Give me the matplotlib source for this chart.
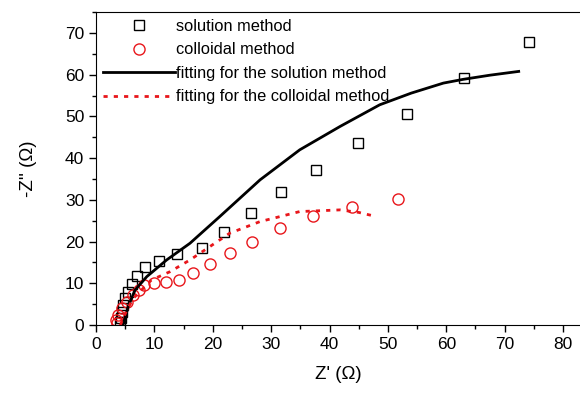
import matplotlib.pyplot as plt
from matplotlib.ticker import MultipleLocator

plt.rcParams["font.family"] = ["Liberation Sans", "DejaVu Sans"]

# solution method (squares)
sol_x = [4.1, 4.2, 4.4, 4.6, 5.0, 5.4, 6.1, 7.1, 8.4, 10.8, 13.9, 18.2, 21.9, 26.5, 31.7, 37.7, 44.8, 53.2, 63.0, 74.2]
sol_y = [0.7, 1.7, 3.2, 4.8, 6.5, 8.0, 9.8, 11.8, 13.9, 15.4, 17.0, 18.5, 22.4, 26.9, 31.8, 37.2, 43.6, 50.6, 59.2, 67.8]

# colloidal method (circles)
col_x = [3.6, 3.5, 3.8, 4.4, 5.3, 6.4, 7.3, 8.2, 9.9, 12.0, 14.3, 16.7, 19.5, 22.9, 26.7, 31.5, 37.1, 43.8, 51.7]
col_y = [0.4, 1.2, 2.4, 4.0, 5.6, 7.2, 8.5, 9.6, 10.1, 10.4, 10.8, 12.5, 14.6, 17.3, 20.0, 23.2, 26.1, 28.4, 30.1]

# fitting curves
fit_sol_x = [4.6, 4.7, 5.5, 6.7, 8.7, 12.1, 16.1, 21.2, 28.1, 34.9, 41.8, 48.6, 54.0, 59.5, 62.9, 67.5, 72.4]
fit_sol_y = [0.0, 0.4, 4.4, 8.4, 11.6, 15.6, 19.6, 26.0, 34.8, 42.0, 47.6, 52.8, 55.6, 58.0, 58.9, 59.9, 60.8]
fit_col_x = [4.2, 4.4, 5.3, 6.4, 7.8, 9.5, 12.7, 16.1, 19.5, 22.9, 28.1, 30.4, 34.9, 41.8, 45.0, 47.4]
fit_col_y = [0.0, 0.8, 3.6, 6.4, 8.4, 10.8, 12.8, 15.6, 18.8, 22.0, 24.8, 25.6, 27.2, 27.6, 27.0, 26.2]

fig = plt.figure(figsize=(5.8, 3.93), dpi=100)
ax = fig.add_axes([0.1655, 0.173, 0.8345, 0.796])

ax.plot(sol_x, sol_y, "s", mfc="none", mec="black", ms=7.5, mew=1.0, label="solution method")
ax.plot(col_x, col_y, "o", mfc="none", mec="#e8161b", ms=8, mew=1.0, label="colloidal method")
ax.plot(fit_sol_x, fit_sol_y, "-", color="black", lw=2, label="fitting for the solution method")
ax.plot(fit_col_x, fit_col_y, color="#e8161b", lw=2, ls=(0, (1.5, 2.2)),
        label="fitting for the colloidal method")

ax.set_xlim(0, 82.9)
ax.set_ylim(0, 75)
ax.xaxis.set_major_locator(MultipleLocator(10))
ax.xaxis.set_minor_locator(MultipleLocator(5))
ax.yaxis.set_major_locator(MultipleLocator(10))
ax.yaxis.set_minor_locator(MultipleLocator(5))
ax.tick_params(which="both", direction="out", labelsize=12.5, width=1)
ax.tick_params(which="major", length=5)
ax.tick_params(which="minor", length=3)
ax.spines["right"].set_visible(False)

ax.set_xlabel("Z' (\u03a9)", fontsize=13.5, labelpad=10)
ax.set_ylabel("-Z'' (\u03a9)", fontsize=13.5, labelpad=20)

ax.legend(loc="upper left", frameon=False, fontsize=11.8, handlelength=4.4,
          handletextpad=0.1, labelspacing=0.52, borderaxespad=0.0,
          bbox_to_anchor=(0.0, 1.0))

fig.savefig("out.png", dpi=100)
